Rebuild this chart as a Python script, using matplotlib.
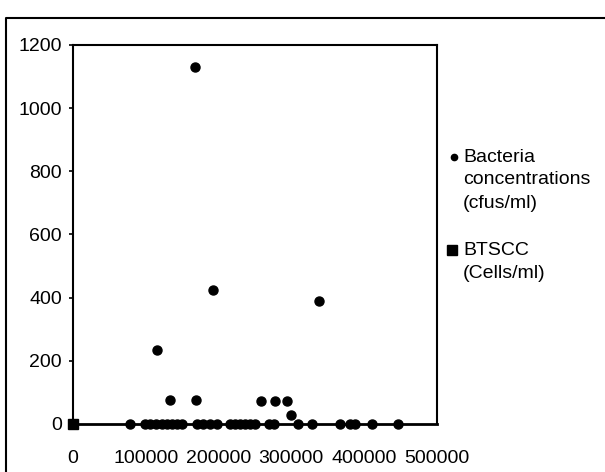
#!/usr/bin/env python3

import matplotlib
matplotlib.use('Agg')
from matplotlib import pyplot as plt

plt.rcParams['font.family'] = ['Liberation Sans', 'DejaVu Sans']

# BTSCC (cells/ml) on x, bacteria (cfus/ml) on y
btscc = [78000, 99000, 106000, 114000, 122000, 129000, 136000, 143000, 150000,
         170000, 179000, 188000, 198000, 216000, 223000, 230000, 237000, 243000,
         250000, 269000, 276000, 310000, 328000, 367000, 381000, 388000, 411000,
         447000,
         115000, 134000, 168000, 169000, 192000, 258000, 278000, 294000, 300000,
         338000]
bacteria = [0] * 28 + [235, 75, 1130, 75, 425, 72, 72, 72, 30, 390]

# second series, a single point at the origin
btscc_series_x = [0]
btscc_series_y = [0]

xticks = [0, 100000, 200000, 300000, 400000, 500000]
yticks = [0, 200, 400, 600, 800, 1000, 1200]

legend_bact = ['Bacteria', 'concentrations', '(cfus/ml)']
legend_btscc = ['BTSCC', '(Cells/ml)']

FS = 14

fig = plt.figure(figsize=(6.05, 4.72), dpi=100)
ax = fig.add_axes([0.1207, 0.1017, 0.7218 - 0.1207, 0.9047 - 0.1017])

ax.plot(btscc, bacteria, 'o', color='black', ms=6.5, clip_on=False, zorder=3)
ax.plot(btscc_series_x, btscc_series_y, 's', color='black', ms=7.5,
        clip_on=False, zorder=4)

ax.set_xlim(0, 500000)
ax.set_ylim(0, 1200)
ax.set_xticks(xticks)
ax.set_xticklabels([str(t) for t in xticks], fontsize=FS)
ax.set_yticks(yticks)
ax.set_yticklabels([str(t) for t in yticks], fontsize=FS)
ax.tick_params(axis='y', direction='out', length=3, width=1.2, pad=5)
ax.tick_params(axis='x', length=0, pad=19)
for s in ax.spines.values():
    s.set_linewidth(1.5)
    s.set_color('black')
ax.spines['bottom'].set_linewidth(2)

# legend drawn by hand, marker beside the first line of each entry
lx, ly = 463 / 605, 1 - 157 / 472
step = 23 / 472
fig.lines.append(plt.Line2D([454 / 605], [ly], marker='o', ms=4.5, color='black',
                            transform=fig.transFigure))
for i, t in enumerate(legend_bact):
    fig.text(lx, ly - i * step, t, fontsize=FS, va='center', ha='left')
ly2 = 1 - 250 / 472
fig.lines.append(plt.Line2D([452 / 605], [ly2], marker='s', ms=7, color='black',
                            transform=fig.transFigure))
for i, t in enumerate(legend_btscc):
    fig.text(lx, ly2 - i * step, t, fontsize=FS, va='center', ha='left')

# outer chart border (only top and left show in the scan)
top = 1 - 17.5 / 472
left = 6 / 605
fig.lines.append(plt.Line2D([left, left, 1], [0, top, top], lw=1.5,
                            color='black', transform=fig.transFigure))

fig.savefig('out.png', dpi=100)
